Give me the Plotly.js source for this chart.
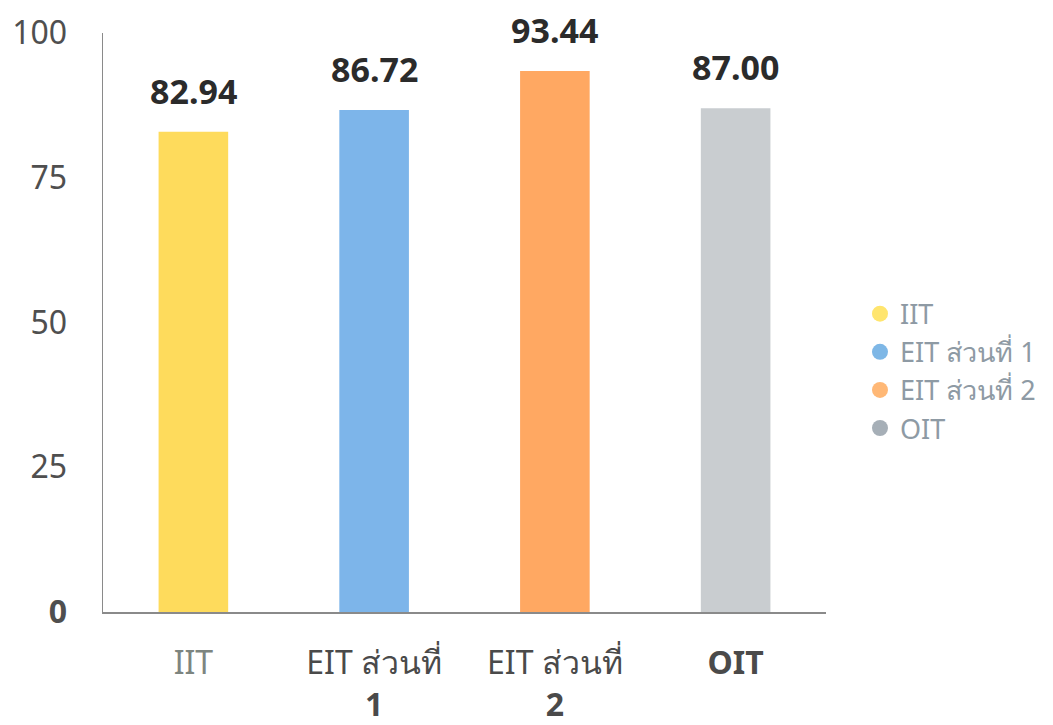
<!DOCTYPE html>
<html>
<head>
<meta charset="utf-8">
<script src="https://cdn.plot.ly/plotly-3.0.1.min.js"></script>
<style>html,body{margin:0;padding:0;background:#fff;}#chart{width:1053px;height:725px;}</style>
</head>
<body>
<div id="chart"></div>
<script>
var categories = ["IIT", "EIT ส่วนที่ 1", "EIT ส่วนที่ 2", "OIT"];
var tickLabels = ["<span style='color:#7d8580'>IIT</span>", "EIT ส่วนที่<br><b>1</b>", "EIT ส่วนที่<br><b>2</b>", "<b>OIT</b>"];
var values = [82.94, 86.72, 93.44, 87.00];
var valueLabels = ["82.94", "86.72", "93.44", "87.00"];
var barColors = ["#FEDB5C", "#7DB5EA", "#FFA862", "#C9CDD0"];
var legendColors = ["#FFE56E", "#7EB7E6", "#FFB876", "#A6AFB7"];
var yTicks = [0, 25, 50, 75, 100];

var FONT = "'Noto Sans', 'Open Sans', sans-serif";
var traces = [];
categories.forEach(function (c, i) {
  traces.push({
    type: "bar",
    x: [c],
    y: [values[i]],
    width: 0.385,
    marker: { color: barColors[i] },
    showlegend: false
  });
});
categories.forEach(function (c, i) {
  traces.push({
    type: "scatter",
    mode: "markers",
    x: [null],
    y: [null],
    name: c,
    marker: { color: legendColors[i], size: 22, symbol: "circle" },
    showlegend: true
  });
});

var annotations = categories.map(function (c, i) {
  return {
    x: c, y: values[i], xref: "x", yref: "y",
    text: "<b>" + valueLabels[i] + "</b>",
    showarrow: false, yanchor: "bottom", yshift: 16,
    font: { family: FONT, size: 34, color: "#2b2b2b" }
  };
});

var layout = {
  width: 1053, height: 725,
  margin: { l: 103, r: 225, t: 33, b: 113 },
  paper_bgcolor: "#ffffff", plot_bgcolor: "#ffffff",
  barmode: "overlay",
  showlegend: true,
  legend: {
    x: 1.047, y: 0.416, xanchor: "left", yanchor: "middle",
    font: { family: FONT, size: 27, color: "#8E9AA4" },
    itemclick: false, tracegroupgap: 0
  },
  xaxis: {
    type: "category",
    categoryarray: categories,
    tickvals: categories,
    ticktext: tickLabels,
    showline: true, linecolor: "#8a8a8a", linewidth: 1.5,
    showgrid: false, zeroline: false,
    ticks: "",
    tickfont: { family: FONT, size: 32, color: "#4a4a4a" },
    ticklabelstandoff: 22
  },
  yaxis: {
    range: [0, 100],
    tickvals: yTicks,
    ticktext: ["<b>0</b>", "25", "50", "75", "100"],
    showline: true, linecolor: "#8a8a8a", linewidth: 1.5,
    showgrid: false, zeroline: false,
    ticks: "",
    ticklabelstandoff: 28,
    tickfont: { family: FONT, size: 32, color: "#4f4f4f" }
  },
  annotations: annotations,
  hovermode: false
};

Plotly.newPlot("chart", traces, layout, { displayModeBar: false, staticPlot: true });
</script>
</body>
</html>
